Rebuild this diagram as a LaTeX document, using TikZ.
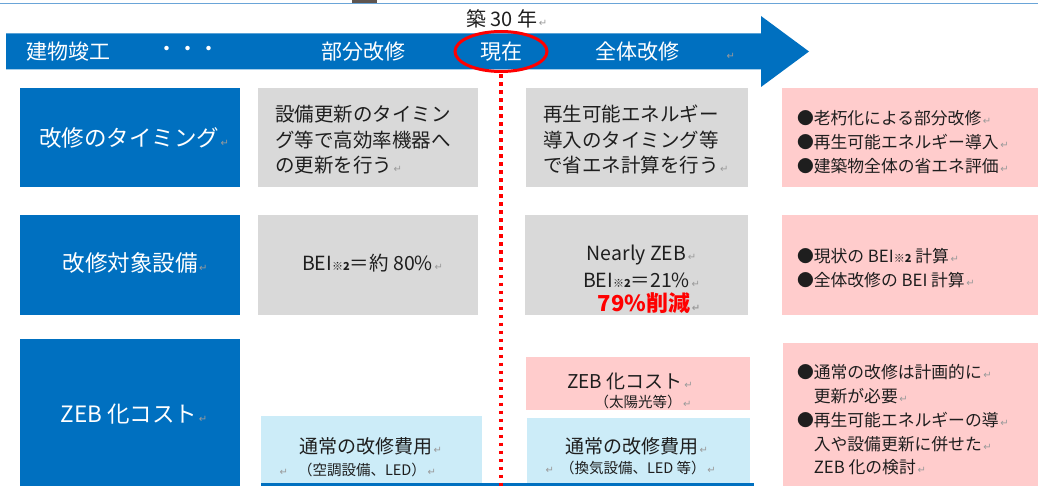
\documentclass[tikz,border=0pt]{standalone}
\usepackage{fontspec}
\setmainfont{Noto Sans CJK JP}
\newfontfamily\djv{DejaVu Sans}
\usetikzlibrary{shapes.geometric}
\definecolor{mainblue}{HTML}{0070C0}
\definecolor{boxgray}{HTML}{D9D9D9}
\definecolor{boxpink}{HTML}{FFCCCC}
\definecolor{boxlight}{HTML}{CCECF8}
\definecolor{retgray}{HTML}{9A9A9A}
\definecolor{topline}{HTML}{6AA5D8}
\definecolor{markgray}{HTML}{5F5550}
\definecolor{txt}{HTML}{1E1E1E}
\newcommand\fsz[2]{\fontsize{#1}{#2}\selectfont}
\newcommand\rtn{{\djv\fsz{10}{10}\color{retgray}\,↵}}
\newcommand\rtnz{\rlap{\rtn}}
\newcommand\kome{{\fsz{11}{11}※\textbf{2}}}
\begin{document}
\begin{tikzpicture}[x=1pt,y=-1pt,
  every node/.style={inner sep=0pt, outer sep=0pt},
  box/.style={rectangle, anchor=north west},
  lbltxt/.style={text=white, font=\fsz{22.5}{26}},
  bartxt/.style={text=white, font=\fsz{21}{24}},
  graytxt/.style={text=txt, align=left, font=\fsz{19.5}{25.5}},
  pinktxt/.style={text=txt, align=left, font=\fsz{16.8}{23.8}},
  celltxt/.style={text=txt, font=\fsz{19}{22}},
  smalltxt/.style={text=txt, font=\fsz{14.5}{16}},
  dotline/.style={draw=red, line width=3.5pt, dash pattern=on 3.5pt off 4.5pt}]
\useasboundingbox (0,0) rectangle (1038,486);
% top decoration
\draw[topline, line width=1.2pt] (0,3.3) -- (1038,3.3);
\fill[markgray] (352,0) rectangle (377,2.6);
% timeline arrow
\fill[mainblue] (6,33.5) -- (761,33.5) -- (761,16) -- (809,51.5) -- (761,87) -- (761,69.5) -- (6,69.5) -- cycle;
\node[anchor=west, text=txt, font=\fsz{20}{22}] (age) at (466,19) {築 30 年\rtn};
\node[bartxt] (built) at (69,51.5) {建物竣工};
\node[bartxt] (dots) at (188,51.5) {・・・};
\node[bartxt] (partial) at (363,51.5) {部分改修};
\node[draw=red, line width=3pt, ellipse, minimum width=92pt, minimum height=40pt, bartxt] (now) at (501,51.5) {現在};
\node[bartxt] (whole) at (637,51.5) {全体改修};
\node (wholeret) at (730,56) {\rtn};
% row labels
\node[box, fill=mainblue, minimum width=220pt, minimum height=99pt] (lab1) at (20,88) {};
\node[box, fill=mainblue, minimum width=220pt, minimum height=100pt] (lab2) at (20,215) {};
\node[box, fill=mainblue, minimum width=220pt, minimum height=147pt] (lab3) at (20,339) {};
\node[lbltxt] (lab1t) at (129,137.5) {改修のタイミング\rtnz};
\node[lbltxt] (lab2t) at (130,263) {改修対象設備\rtnz};
\node[lbltxt] (lab3t) at (129,414) {ZEB 化コスト\rtnz};
% row 1
\node[box, fill=boxgray, minimum width=220pt, minimum height=99pt] (g1) at (258,88) {};
\node[box, fill=boxgray, minimum width=222pt, minimum height=99pt] (g2) at (526,88) {};
\node[box, fill=boxpink, minimum width=256pt, minimum height=99pt] (p1) at (782,88) {};
\node[graytxt, anchor=west] (g1t) at (275,140) {設備更新のタイミン\\グ等で高効率機器へ\\の更新を行う\rtn};
\node[graytxt, anchor=west] (g2t) at (543,140) {再生可能エネルギー\\導入のタイミング等\\で省エネ計算を行う\rtn};
\node[pinktxt, anchor=west] (p1t) at (797,142) {●老朽化による部分改修\rtn\\●再生可能エネルギー導入\rtn\\●建築物全体の省エネ評価\rtn};
% row 2
\node[box, fill=boxgray, minimum width=220pt, minimum height=100pt] (g3) at (258,215) {};
\node[box, fill=boxgray, minimum width=223pt, minimum height=100pt] (g4) at (525,215) {};
\node[box, fill=boxpink, minimum width=256pt, minimum height=100pt] (p2) at (782,215) {};
\node[celltxt, font=\fsz{19.5}{22}] (g3t) at (367.5,263) {BEI\kome＝約 80\%\rtnz};
\node[celltxt, font=\fsz{19.5}{22}] (g4a) at (636.5,255.5) {Nearly ZEB\rtnz};
\node[celltxt, font=\fsz{19.5}{22}] (g4b) at (636.5,280) {BEI\kome＝21\%\rtnz};
\node[text=red, font=\fsz{22}{24}\bfseries] (g4c) at (644,303) {79\%削減\rtnz};
\node[pinktxt, anchor=west] (p2t) at (797,268.5) {●現状の BEI\kome{} 計算\rtn\\●全体改修の BEI 計算\rtn};
% row 3
\node[box, fill=boxpink, minimum width=224pt, minimum height=53pt] (pm) at (526,357) {};
\node[box, fill=boxlight, minimum width=221pt, minimum height=70pt] (bl) at (261,416) {};
\node[box, fill=boxlight, minimum width=223pt, minimum height=68pt] (bm) at (527,418) {};
\node[box, fill=boxpink, minimum width=255pt, minimum height=143pt] (p3) at (783,343) {};
\node[celltxt] (pma) at (625,381) {ZEB 化コスト\rtnz};
\node[smalltxt] (pmb) at (638,402) {（太陽光等）\rtnz};
\node[celltxt, anchor=west] (bla) at (299,446) {通常の改修費用\rtn};
\node[smalltxt, anchor=west] (blb) at (298,470) {\llap{\rtn\hspace{10pt}}（空調設備、LED）\rtn};
\node[celltxt, anchor=west] (bma) at (565,446) {通常の改修費用\rtn};
\node[smalltxt, anchor=west] (bmb) at (560,468) {\llap{\rtn\hspace{6pt}}（換気設備、LED 等）\rtn};
\node[pinktxt, anchor=west] (p3t) at (797,420) {●通常の改修は計画的に\rtn\\\phantom{●}更新が必要\rtn\\●再生可能エネルギーの導\rtn\\\phantom{●}入や設備更新に併せた\rtn\\\phantom{●}ZEB 化の検討\rtn};
\fill[mainblue] (261,482.7) rectangle (754,486);
% present line
\coordinate (dbot) at (501,486);
\draw[dotline] ([yshift=-3pt]now.south) -- (dbot);
\end{tikzpicture}
\end{document}
